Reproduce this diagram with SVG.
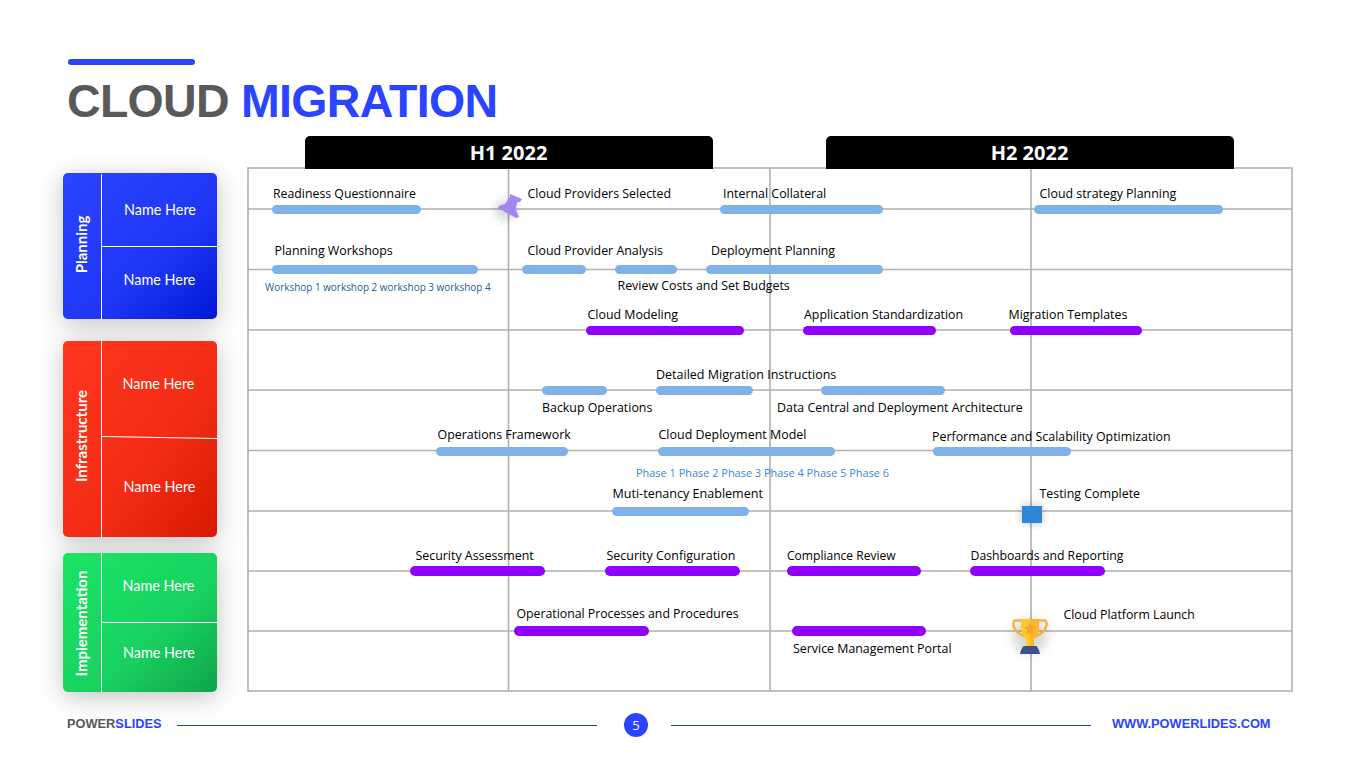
<svg xmlns="http://www.w3.org/2000/svg" width="1365" height="767" viewBox="0 0 1365 767">
<style>
.t{font-family:"Open Sans","Noto Sans","Liberation Sans",sans-serif;font-size:12.4px;fill:#000}
.s{font-family:"Open Sans","Noto Sans","Liberation Sans",sans-serif}
.n{font-family:Lato,"Open Sans",sans-serif;font-size:14.4px;fill:#fff;text-anchor:middle}
.v{font-family:Lato,"Open Sans",sans-serif;font-size:15px;font-weight:700;fill:#fff;text-anchor:middle}
.h{font-family:"Open Sans","Noto Sans",sans-serif;font-size:20px;font-weight:700;fill:#fff;text-anchor:middle}
.g{stroke:#b0b0b0;stroke-width:1.6;fill:none}
.w{stroke:#fff;stroke-width:1;fill:none}
.b{fill:#7eb2e8}
.p{fill:#8f00ff}
.f{font-family:"Liberation Sans",Arial,sans-serif;font-size:12.8px;font-weight:700}
</style>
<defs>
<linearGradient id="gb" x1="0" y1="0" x2="1" y2="1"><stop offset="0" stop-color="#2a44ff"/><stop offset=".6" stop-color="#1f37f5"/><stop offset="1" stop-color="#0017d8"/></linearGradient>
<linearGradient id="gr" x1="0" y1="0" x2="1" y2="1"><stop offset="0" stop-color="#ff3620"/><stop offset=".6" stop-color="#f22c14"/><stop offset="1" stop-color="#d81800"/></linearGradient>
<linearGradient id="gg" x1="0" y1="0" x2="1" y2="1"><stop offset="0" stop-color="#1ae566"/><stop offset=".6" stop-color="#19d160"/><stop offset="1" stop-color="#0ea44a"/></linearGradient>
<filter id="sh" x="-40%" y="-40%" width="180%" height="180%"><feGaussianBlur stdDeviation="13"/></filter>
<filter id="sm" x="-80%" y="-80%" width="260%" height="260%"><feGaussianBlur stdDeviation="5"/></filter>
</defs>
<rect width="1365" height="767" fill="#fff"/>
<g id="title">
<rect x="68" y="59" width="127" height="6" rx="3" fill="#2a44ff"/>
<text x="67" y="117" font-family="'Liberation Sans',Arial,sans-serif" font-size="46.500" font-weight="700" letter-spacing="-0.700" fill="#595959">CLOUD <tspan fill="#2a44ff">MIGRATION</tspan></text>
</g>
<g id="sidebar-shadows" fill="#000" opacity=".24" filter="url(#sh)">
<rect x="63" y="178" width="154" height="146"/><rect x="63" y="346" width="154" height="196"/><rect x="63" y="558" width="154" height="139"/>
</g>
<g id="planning">
<rect x="63" y="173" width="154" height="146" rx="5" fill="url(#gb)"/>
<path class="w" d="M101.500 174V319M102 246.500H217"/>
<text class="v" transform="translate(86.500 244.500) rotate(-90)">Planning</text>
<text class="n" x="160" y="215">Name Here</text>
<text class="n" x="159.500" y="285">Name Here</text>
</g>
<g id="infrastructure">
<rect x="63" y="341" width="154" height="196" rx="5" fill="url(#gr)"/>
<path class="w" d="M101.500 339V537M102 436.500L217 438.500"/>
<text class="v" transform="translate(86.500 436) rotate(-90)">Infrastructure</text>
<text class="n" x="158.500" y="389">Name Here</text>
<text class="n" x="159.500" y="492">Name Here</text>
</g>
<g id="implementation">
<rect x="63" y="553" width="154" height="139" rx="5" fill="url(#gg)"/>
<path class="w" d="M101.500 553V692M102 622.500H217"/>
<text class="v" transform="translate(86.500 623.500) rotate(-90)">Implementation</text>
<text class="n" x="158.500" y="591">Name Here</text>
<text class="n" x="159" y="658">Name Here</text>
</g>
<g id="grid">
<rect class="g" x="248" y="168" width="1044" height="523"/>
<path class="g" d="M508.500 168V691M770 168V691M1031 168V691M248 209H1292M248 269.500H1292M248 330H1292M248 390H1292M248 450.500H1292M248 511H1292M248 571H1292M248 631H1292"/>
</g>
<g id="headers">
<path d="M305 169V141a5 5 0 0 1 5-5H708a5 5 0 0 1 5 5V169Z" fill="#000"/>
<path d="M826 169V141a5 5 0 0 1 5-5H1229a5 5 0 0 1 5 5V169Z" fill="#000"/>
<text class="h" x="508.500" y="160">H1 2022</text>
<text class="h" x="1029.500" y="160">H2 2022</text>
</g>
<g id="connectors">
<rect class="b" x="272" y="205" width="149" height="9" rx="4.500"/>
<rect class="b" x="720" y="205" width="163" height="9" rx="4.500"/>
<rect class="b" x="1034" y="205" width="189" height="9" rx="4.500"/>
<rect class="b" x="272" y="265" width="206" height="9" rx="4.500"/>
<rect class="b" x="522" y="265" width="64" height="9" rx="4.500"/>
<rect class="b" x="615" y="265" width="62" height="9" rx="4.500"/>
<rect class="b" x="706" y="265" width="177" height="9" rx="4.500"/>
<rect class="p" x="586" y="326" width="158" height="9" rx="4.500"/>
<rect class="p" x="803" y="326" width="133" height="9" rx="4.500"/>
<rect class="p" x="1010" y="326" width="132" height="9" rx="4.500"/>
<rect class="b" x="542" y="386" width="65" height="9" rx="4.500"/>
<rect class="b" x="656" y="386" width="97" height="9" rx="4.500"/>
<rect class="b" x="821" y="386" width="124" height="9" rx="4.500"/>
<rect class="b" x="436" y="447" width="132" height="9" rx="4.500"/>
<rect class="b" x="658" y="447" width="177" height="9" rx="4.500"/>
<rect class="b" x="933" y="447" width="138" height="9" rx="4.500"/>
<rect class="b" x="612" y="507" width="137" height="9" rx="4.500"/>
<rect class="p" x="410" y="566" width="135" height="10" rx="5"/>
<rect class="p" x="605" y="566" width="135" height="10" rx="5"/>
<rect class="p" x="787" y="566" width="134" height="10" rx="5"/>
<rect class="p" x="970" y="566" width="135" height="10" rx="5"/>
<rect class="p" x="514" y="626" width="135" height="10" rx="5"/>
<rect class="p" x="792" y="626" width="134" height="10" rx="5"/>
</g>
<g id="labels">
<text class="t" x="273" y="198" font-size="12.300" style="font-size:12.300px">Readiness Questionnaire</text>
<text class="t" x="527.500" y="198">Cloud Providers Selected</text>
<text class="t" x="723" y="198">Internal Collateral</text>
<text class="t" x="1039.500" y="198">Cloud strategy Planning</text>
<text class="t" x="274.500" y="255">Planning Workshops</text>
<text class="t" x="527.500" y="255">Cloud Provider Analysis</text>
<text class="t" x="711" y="255">Deployment Planning</text>
<text class="s" x="265" y="291" font-size="9.950" fill="#1f5c99">Workshop 1 workshop 2 workshop 3 workshop 4</text>
<text class="t" x="617.500" y="290">Review Costs and Set Budgets</text>
<text class="t" x="587.500" y="319">Cloud Modeling</text>
<text class="t" x="804" y="319">Application Standardization</text>
<text class="t" x="1008.500" y="319">Migration Templates</text>
<text class="t" x="656" y="379" style="font-size:12.520px">Detailed Migration Instructions</text>
<text class="t" x="542" y="412">Backup Operations</text>
<text class="t" x="777" y="412">Data Central and Deployment Architecture</text>
<text class="t" x="437.500" y="439">Operations Framework</text>
<text class="t" x="658.500" y="439" style="font-size:12.480px">Cloud Deployment Model</text>
<text class="t" x="932" y="441">Performance and Scalability Optimization</text>
<text class="s" x="636" y="477" font-size="10.950" fill="#3b88d8">Phase 1 Phase 2 Phase 3 Phase 4 Phase 5 Phase 6</text>
<text class="t" x="612.500" y="498" style="font-size:12.560px">Muti-tenancy Enablement</text>
<text class="t" x="1039.500" y="498">Testing Complete</text>
<text class="t" x="415.500" y="560">Security Assessment</text>
<text class="t" x="606.500" y="560" style="font-size:12.450px">Security Configuration</text>
<text class="t" x="787" y="560" style="font-size:12.070px">Compliance Review</text>
<text class="t" x="970.500" y="560" style="font-size:12.240px">Dashboards and Reporting</text>
<text class="t" x="516.500" y="618" style="font-size:12.290px">Operational Processes and Procedures</text>
<text class="t" x="1063.500" y="619" style="font-size:12.320px">Cloud Platform Launch</text>
<text class="t" x="793" y="653">Service Management Portal</text>
</g>
<g id="pin">
<ellipse cx="506" cy="210" rx="11" ry="10" fill="#000" opacity=".16" filter="url(#sm)"/>
<path d="M507 213L500.500 225" stroke="#d6ecff" stroke-width="1.200"/>
<path d="M510 194L522 199L520 202L517.500 202L515.500 209L519 217L516 218L498 208L499 206L505 204L510 197Z" fill="#a684f2"/>
</g>
<g id="testing-complete">
<rect x="1022" y="506" width="20" height="17" fill="#000" opacity=".25" filter="url(#sm)"/>
<rect x="1022" y="506" width="20" height="17" fill="#2e86d9"/>
</g>
<g id="trophy">
<ellipse cx="1030" cy="636" rx="18" ry="18" fill="#000" opacity=".14" filter="url(#sm)"/>
<path d="M1021 620.500H1014.500C1012 624 1014 631 1020 634L1026 637M1039 620.500H1045.500C1048 624 1046 631 1040 634L1034 637" fill="none" stroke="#f9b233" stroke-width="2.400"/>
<path d="M1021 619H1039V628C1039 634 1035 638 1034 639V646H1026V639C1025 638 1021 634 1021 628Z" fill="#fdc92f"/>
<path d="M1030 619H1039V628C1039 634 1035 638 1034 639V646H1030Z" fill="#fcb62c"/>
<path d="M1030 622.500L1031.800 626.500L1036 627L1033 630L1034 634.500L1030 632.200L1026 634.500L1027 630L1024 627L1028.200 626.500Z" fill="#f9a12e"/>
<path d="M1020 654L1021 650L1023.500 646H1036.500L1039 650L1040 654Z" fill="#3f5088"/>
</g>
<g id="footer">
<text class="f" x="67" y="728" fill="#595959">POWER<tspan fill="#2a44ff">SLIDES</tspan></text>
<path d="M177 725.500H597M671 725.500H1091" stroke="#2038e0" stroke-width="1"/>
<circle cx="636" cy="725" r="12" fill="#2a44ff"/>
<text x="636" y="730" text-anchor="middle" font-family="'Open Sans',sans-serif" font-size="13" fill="#fff">5</text>
<text class="f" x="1112" y="728" fill="#2a44ff">WWW.POWERLIDES.COM</text>
</g>
</svg>
